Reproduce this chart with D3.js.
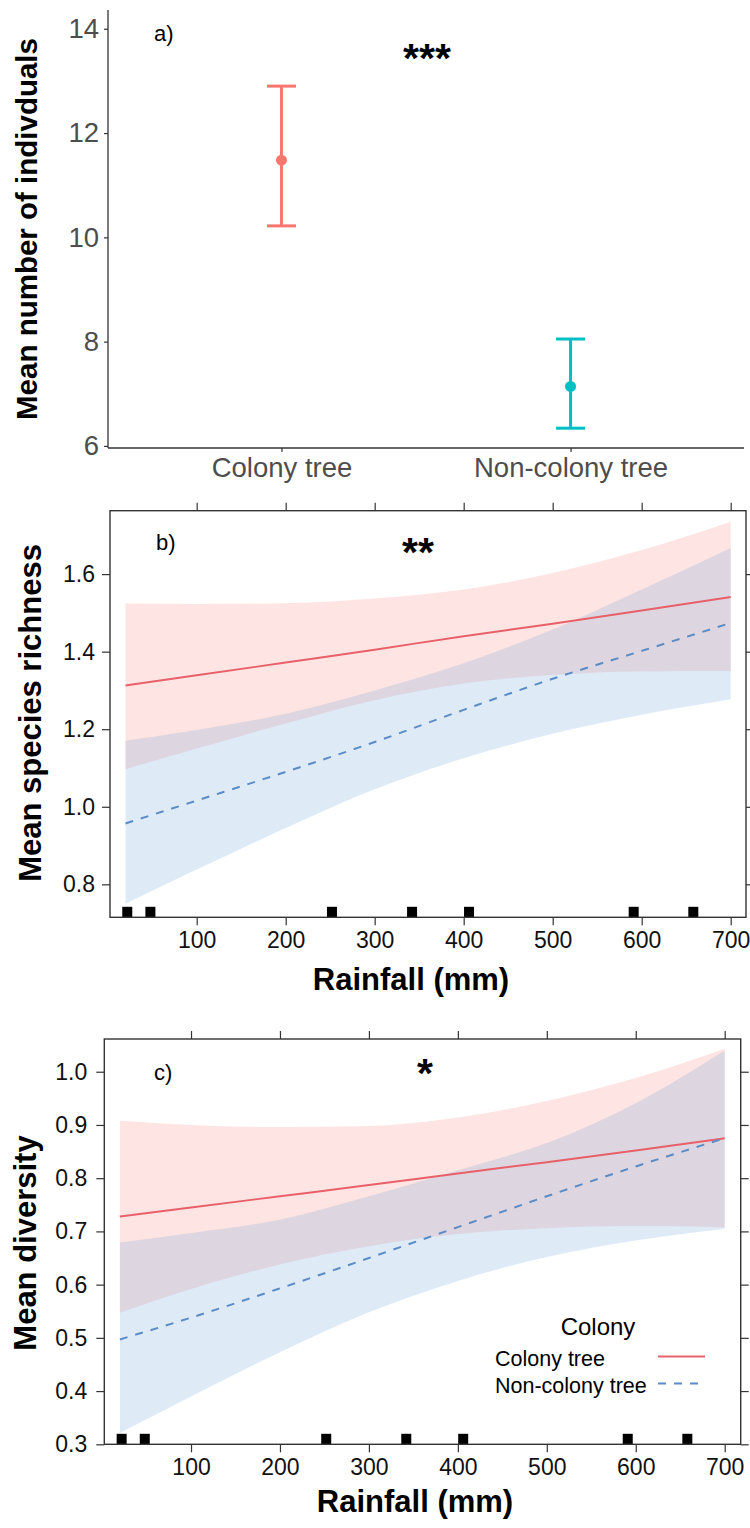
<!DOCTYPE html>
<html><head><meta charset="utf-8">
<script src="https://cdn.jsdelivr.net/npm/d3@7"></script>
<style>
html,body{margin:0;padding:0;background:#fff;}
svg{display:block;font-family:"Liberation Sans",Arial,sans-serif;}
</style></head>
<body>
<svg id="chart" width="750" height="1528"></svg>
<script>
// ---------- DATA ----------
const aCats = ["Colony tree", "Non-colony tree"];
const aMean = [11.48, 7.14];
const aLower = [10.22, 6.34];
const aUpper = [12.9, 8.05];
const aYTicks = [6, 8, 10, 12, 14];

const rainX = [20, 100, 200, 300, 400, 500, 600, 700];
const rainTicks = [100, 200, 300, 400, 500, 600, 700];
const rugRain = [22, 48, 252, 342, 406, 591, 658];

const bColFit = [1.313, 1.339, 1.372, 1.405, 1.440, 1.472, 1.506, 1.541];
const bColHi  = [1.524, 1.523, 1.525, 1.537, 1.560, 1.603, 1.662, 1.735];
const bColLo  = [1.097, 1.150, 1.215, 1.275, 1.318, 1.340, 1.349, 1.350];
const bNonFit = [0.957, 1.016, 1.090, 1.167, 1.250, 1.330, 1.402, 1.474];
const bNonHi  = [1.170, 1.198, 1.240, 1.300, 1.370, 1.457, 1.560, 1.667];
const bNonLo  = [0.750, 0.838, 0.945, 1.045, 1.125, 1.188, 1.237, 1.277];
const bYTicks = [0.8, 1.0, 1.2, 1.4, 1.6];

const cColFit = [0.728, 0.745, 0.766, 0.787, 0.809, 0.830, 0.852, 0.875];
const cColHi  = [0.908, 0.900, 0.896, 0.898, 0.914, 0.945, 0.988, 1.043];
const cColLo  = [0.547, 0.592, 0.638, 0.672, 0.695, 0.706, 0.710, 0.708];
const cNonFit = [0.497, 0.538, 0.593, 0.650, 0.708, 0.766, 0.822, 0.875];
const cNonHi  = [0.679, 0.697, 0.722, 0.766, 0.815, 0.866, 0.941, 1.040];
const cNonLo  = [0.321, 0.390, 0.473, 0.548, 0.607, 0.652, 0.683, 0.705];
const cYTicks = [0.3, 0.4, 0.5, 0.6, 0.7, 0.8, 0.9, 1.0];

const legendLabels = ["Colony tree", "Non-colony tree"];
const sigLabels = ["***", "**", "*"];
const panelLabels = ["a)", "b)", "c)"];

// ---------- STYLE ----------
const colA = ["#F8766D", "#00BFC4"];
const lineRed = "#E8606A", lineBlue = "#5B8CC6";
const fillRed = "rgba(248,118,109,0.20)", fillBlue = "rgba(91,155,213,0.20)";
const svg = d3.select("#chart");

// ---------- PANEL A ----------
(function(){
  const L = 108, R = 744, T = 10, B = 448;
  const x = d3.scalePoint().domain(aCats).range([L, R]).padding(0.6);
  const y = d3.scaleLinear().domain([5.96, 14.36]).range([B, T]);
  const g = svg.append("g");
  const ya = g.append("g").attr("transform", `translate(${L},0)`)
    .call(d3.axisLeft(y).tickValues(aYTicks).tickSize(4).tickSizeOuter(0).tickPadding(5));
  const xa = g.append("g").attr("transform", `translate(0,${B})`)
    .call(d3.axisBottom(x).tickSize(4).tickSizeOuter(0).tickPadding(4));
  [ya, xa].forEach(a => {
    a.select(".domain").attr("stroke", "#333").attr("stroke-width", 1.3);
    a.selectAll(".tick line").attr("stroke", "#333").attr("stroke-width", 1.2);
    a.selectAll("text").attr("fill", "#4D4D4D").style("font-size", "27.5px");
  });
  ya.select(".domain").attr("d", `M0,${T}V${B}`);
  xa.select(".domain").attr("d", `M${L},0H${R}`);
  xa.selectAll("text").attr("dy", "0.75em");
  const bars = g.selectAll(".eb").data(aCats).enter().append("g");
  bars.append("line").attr("x1", d => x(d)).attr("x2", d => x(d))
    .attr("y1", (d,i) => y(aLower[i])).attr("y2", (d,i) => y(aUpper[i]))
    .attr("stroke", (d,i) => colA[i]).attr("stroke-width", 3);
  [aLower, aUpper].forEach(arr => {
    bars.append("line").attr("x1", d => x(d) - 14.5).attr("x2", d => x(d) + 14.5)
      .attr("y1", (d,i) => y(arr[i])).attr("y2", (d,i) => y(arr[i]))
      .attr("stroke", (d,i) => colA[i]).attr("stroke-width", 3);
  });
  bars.append("circle").attr("cx", d => x(d)).attr("cy", (d,i) => y(aMean[i]))
    .attr("r", 5.5).attr("fill", (d,i) => colA[i]);
  g.append("text").attr("transform", `translate(37,229) rotate(-90)`)
    .attr("text-anchor", "middle").style("font-size", "29.5px").style("font-weight", "bold")
    .text("Mean number of indivduals");
  g.append("text").attr("x", 154).attr("y", 41).style("font-size", "22px").text(panelLabels[0]);
  g.append("text").attr("x", 427).attr("y", 72).attr("text-anchor", "middle")
    .style("font-size", "41px").style("font-weight", "bold").text(sigLabels[0]);
})();

// ---------- PANELS B & C ----------
function effectPanel(o){
  const x = d3.scaleLinear().domain(o.xd).range([o.L, o.R]);
  const y = d3.scaleLinear().domain(o.yd).range([o.B, o.T]);
  const g = svg.append("g");
  const clipId = "clip" + o.id;
  g.append("clipPath").attr("id", clipId).append("rect")
    .attr("x", o.L).attr("y", o.T).attr("width", o.R - o.L).attr("height", o.B - o.T);
  const pg = g.append("g").attr("clip-path", `url(#${clipId})`);
  const area = (lo, hi) => d3.area().x((d,i) => x(rainX[i])).y0((d,i) => y(lo[i])).y1((d,i) => y(hi[i])).curve(d3.curveMonotoneX)(rainX);
  const line = arr => d3.line().x((d,i) => x(rainX[i])).y((d,i) => y(arr[i])).curve(d3.curveMonotoneX)(rainX);
  pg.append("path").attr("d", area(o.colLo, o.colHi)).attr("fill", fillRed);
  pg.append("path").attr("d", area(o.nonLo, o.nonHi)).attr("fill", fillBlue);
  pg.append("path").attr("d", line(o.colFit)).attr("fill", "none").attr("stroke", lineRed).attr("stroke-width", 2);
  pg.append("path").attr("d", line(o.nonFit)).attr("fill", "none").attr("stroke", lineBlue)
    .attr("stroke-width", 2).attr("stroke-dasharray", "8,8");
  pg.selectAll(".rug").data(rugRain).enter().append("rect")
    .attr("x", d => x(d) - 5).attr("y", o.B - 10.5).attr("width", 10).attr("height", 10.5).attr("fill", "#000");
  const style = (a) => {
    a.select(".domain").remove();
    a.selectAll(".tick line").attr("stroke", "#333").attr("stroke-width", 1.2);
    a.selectAll("text").attr("fill", "#111").style("font-size", "23px");
  };
  const la = g.append("g").attr("transform", `translate(${o.L},0)`)
    .call(d3.axisLeft(y).tickValues(o.yTicks).tickFormat(d3.format(".1f")).tickSize(8).tickPadding(o.lpad));
  style(la);
  const ra = g.append("g").attr("transform", `translate(${o.R},0)`)
    .call(d3.axisRight(y).tickValues(o.yTicks).tickSize(8).tickFormat(""));
  style(ra);
  const ba = g.append("g").attr("transform", `translate(0,${o.B})`)
    .call(d3.axisBottom(x).tickValues(rainTicks).tickSize(8).tickPadding(6));
  style(ba);
  const ta = g.append("g").attr("transform", `translate(0,${o.T})`)
    .call(d3.axisTop(x).tickValues(rainTicks).tickSize(8).tickFormat(""));
  style(ta);
  g.append("rect").attr("x", o.L).attr("y", o.T).attr("width", o.R - o.L).attr("height", o.B - o.T)
    .attr("fill", "none").attr("stroke", "#333").attr("stroke-width", 1.4);
  g.append("text").attr("transform", `translate(${o.ytX},${o.ytY}) rotate(-90)`)
    .attr("text-anchor", "middle").style("font-size", "31px").style("font-weight", "bold").text(o.ytitle);
  g.append("text").attr("x", o.xtX).attr("y", o.xtY).attr("text-anchor", "middle")
    .style("font-size", "31px").style("font-weight", "bold").text("Rainfall (mm)");
  g.append("text").attr("x", o.plX).attr("y", o.plY).style("font-size", "22px").text(o.plab);
  g.append("text").attr("x", o.sigX).attr("y", o.sigY).attr("text-anchor", "middle")
    .style("font-size", "41px").style("font-weight", "bold").text(o.sig);
  return {g, x, y};
}

effectPanel({id:"b", L:110, R:746, T:510.7, B:917.3, xd:[2.6, 717.2], yd:[0.715, 1.7635],
  colFit:bColFit, colHi:bColHi, colLo:bColLo, nonFit:bNonFit, nonHi:bNonHi, nonLo:bNonLo,
  yTicks:bYTicks, lpad:7, ytitle:"Mean species richness", ytX:41, ytY:713, xtX:411, xtY:990,
  plab:panelLabels[1], plX:156, plY:550, sig:sigLabels[1], sigX:418, sigY:566});

const pc = effectPanel({id:"c", L:104.3, R:740.7, T:1039, B:1444.3, xd:[2.5, 718], yd:[0.3, 1.0615],
  colFit:cColFit, colHi:cColHi, colLo:cColLo, nonFit:cNonFit, nonHi:cNonHi, nonLo:cNonLo,
  yTicks:cYTicks, lpad:9, ytitle:"Mean diversity", ytX:36, ytY:1243, xtX:415, xtY:1512,
  plab:panelLabels[2], plX:154, plY:1080, sig:sigLabels[2], sigX:425, sigY:1087});

// legend
(function(){
  const g = pc.g;
  g.append("text").attr("x", 598).attr("y", 1327).attr("dy", "0.35em").attr("text-anchor", "middle")
    .style("font-size", "24px").text("Colony");
  const ys = [1358, 1385];
  legendLabels.forEach((t, i) => {
    g.append("text").attr("x", 495).attr("y", ys[i]).attr("dy", "0.35em").style("font-size", "21.5px").text(t);
    g.append("line").attr("x1", 658).attr("x2", 705).attr("y1", ys[i] - 1.5).attr("y2", ys[i] - 1.5)
      .attr("stroke", i === 0 ? lineRed : lineBlue).attr("stroke-width", 2)
      .attr("stroke-dasharray", i === 0 ? null : "8,8");
  });
})();
</script>
</body></html>
